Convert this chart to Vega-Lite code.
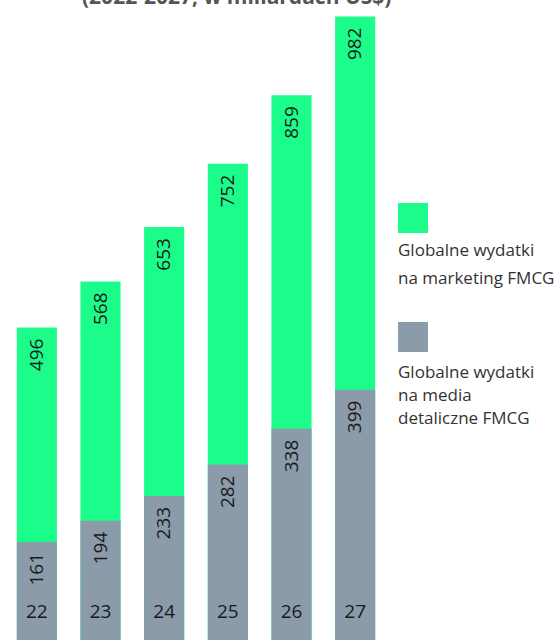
{
  "$schema": "https://vega.github.io/schema/vega-lite/v6.json",
  "autosize": "none",
  "padding": {"left": 5, "top": 5, "right": 173, "bottom": 0},
  "width": 382,
  "height": 640,
  "title": {
    "text": "(2022-2027, w miliardach US$)",
    "anchor": "start",
    "frame": "group",
    "dx": 77,
    "offset": -3,
    "fontSize": 21,
    "fontWeight": "bold",
    "font": "Open Sans",
    "color": "#555555"
  },
  "config": {
    "view": {"stroke": null},
    "font": "Open Sans"
  },
  "data": {
    "values": [
      {"year": "22", "series": "marketing", "value": 496},
      {"year": "23", "series": "marketing", "value": 568},
      {"year": "24", "series": "marketing", "value": 653},
      {"year": "25", "series": "marketing", "value": 752},
      {"year": "26", "series": "marketing", "value": 859},
      {"year": "27", "series": "marketing", "value": 982},
      {"year": "22", "series": "media", "value": 161},
      {"year": "23", "series": "media", "value": 194},
      {"year": "24", "series": "media", "value": 233},
      {"year": "25", "series": "media", "value": 282},
      {"year": "26", "series": "media", "value": 338},
      {"year": "27", "series": "media", "value": 399}
    ]
  },
  "encoding": {
    "x": {
      "field": "year",
      "type": "nominal",
      "axis": null,
      "scale": {"paddingInner": 0.37, "paddingOuter": 0.185}
    }
  },
  "layer": [
    {
      "mark": {"type": "bar"},
      "encoding": {
        "y": {
          "field": "value",
          "type": "quantitative",
          "stack": null,
          "axis": null,
          "scale": {"domain": [0, 1000], "nice": false, "zero": true}
        },
        "color": {
          "field": "series",
          "type": "nominal",
          "scale": {"domain": ["marketing", "media"], "range": ["#1CFC8A", "#8B9BA9"]},
          "legend": {
            "orient": "none",
            "legendX": 393,
            "legendY": 198,
            "title": null,
            "padding": 0,
            "symbolType": "square",
            "symbolSize": 900,
            "symbolStrokeWidth": 0,
            "symbolOpacity": 1,
            "labelFontSize": 17,
            "labelColor": "#333333",
            "labelFont": "Open Sans",
            "labelOffset": -30,
            "labelBaseline": "top",
            "labelLimit": 200,
            "rowPadding": 35,
            "labelExpr": "datum.label == 'marketing' ? ['Globalne wydatki', 'na marketing FMCG'] : ['Globalne wydatki', 'na media', 'detaliczne FMCG']",
            "encoding": {
              "labels": {
                "dy": {"value": {"expr": "datum.value == 'marketing' ? 25 : 28"}},
                "lineHeight": {"value": {"expr": "datum.value == 'marketing' ? 28 : 23"}}
              }
            }
          }
        }
      }
    },
    {
      "mark": {"type": "text", "angle": 270, "align": "right", "baseline": "middle", "dx": -11, "fontSize": 19, "color": "#1a1a1a"},
      "encoding": {
        "y": {"field": "value", "type": "quantitative"},
        "text": {"field": "value", "type": "quantitative"}
      }
    },
    {
      "transform": [{"filter": "datum.series == 'marketing'"}],
      "mark": {"type": "text", "align": "center", "baseline": "middle", "dy": -33, "fontSize": 19, "color": "#1a1a1a"},
      "encoding": {
        "y": {"datum": 0, "type": "quantitative"},
        "text": {"field": "year", "type": "nominal"}
      }
    }
  ]
}
